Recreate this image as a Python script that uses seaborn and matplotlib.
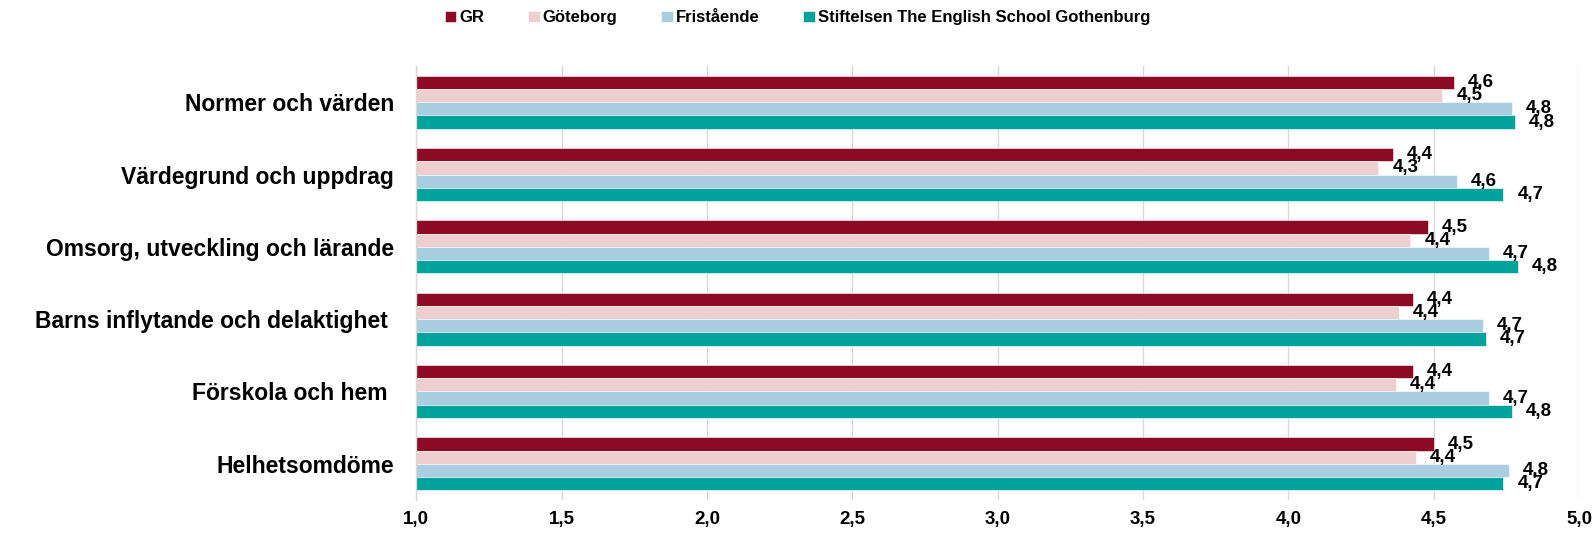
import matplotlib
matplotlib.use("Agg")
import matplotlib.pyplot as plt
from matplotlib.ticker import MultipleLocator, FixedLocator, FuncFormatter
import seaborn as sns
import pandas as pd

# Data
categories = ['Normer och värden', 'Värdegrund och uppdrag', 'Omsorg, utveckling och lärande',
              'Barns inflytande och delaktighet ', 'Förskola och hem ', 'Helhetsomdöme']
series = ['GR', 'Göteborg', 'Fristående', 'Stiftelsen The English School Gothenburg']
gr = [4.57, 4.36, 4.48, 4.43, 4.43, 4.50]
goteborg = [4.53, 4.31, 4.42, 4.38, 4.37, 4.44]
fristaende = [4.77, 4.58, 4.69, 4.67, 4.69, 4.76]
stiftelsen = [4.78, 4.74, 4.79, 4.68, 4.77, 4.74]
colors = ['#8C0A25', '#EECFD0', '#A8CEE0', '#00A39B']

rows = []
for name, vals in zip(series, [gr, goteborg, fristaende, stiftelsen]):
    for cat, v in zip(categories, vals):
        rows.append({'Kategori': cat, 'Serie': name, 'Värde': v})
df = pd.DataFrame(rows)

sns.set_theme(style="white")
plt.rcParams['font.family'] = ['Liberation Sans', 'DejaVu Sans']
plt.rcParams['text.color'] = 'black'
plt.rcParams['xtick.labelcolor'] = 'black'
plt.rcParams['ytick.labelcolor'] = 'black'

fig = plt.figure(figsize=(15.95, 5.33), dpi=100)
ax = fig.add_axes([0.261, 0.062, 0.729, 0.814])

sns.barplot(data=df, y='Kategori', x='Värde', hue='Serie', orient='h',
            palette=colors, saturation=1, width=0.73, errorbar=None, ax=ax,
            edgecolor='white', linewidth=0.4)

# data labels
for cont, vals in zip(ax.containers, [gr, goteborg, fristaende, stiftelsen]):
    ax.bar_label(cont, labels=[f"{v:.1f}".replace('.', ',') for v in vals],
                 padding=10, fontsize=13.5, fontweight='bold', color='black')

ax.set_xlim(1.0, 5.0)
ax.xaxis.set_major_locator(MultipleLocator(0.5))
ax.xaxis.set_major_formatter(FuncFormatter(lambda v, p: f"{v:.1f}".replace('.', ',')))
ax.grid(axis='x', color='#d9d9d9', linewidth=1)
ax.set_axisbelow(True)
ax.set_xlabel('')
ax.set_ylabel('')

for s in ['top', 'right', 'bottom']:
    ax.spines[s].set_visible(False)
ax.spines['left'].set_color('#d9d9d9')
ax.spines['left'].set_linewidth(1)

ax.tick_params(axis='x', length=0, pad=8, labelsize=13.5)
ax.tick_params(axis='y', which='major', length=0, pad=16, labelsize=16.5)
ax.yaxis.set_minor_locator(FixedLocator([i - 0.5 for i in range(len(categories) + 1)]))
ax.tick_params(axis='y', which='minor', length=5, color='#d9d9d9', width=1)
for lab in ax.get_xticklabels() + ax.get_yticklabels():
    lab.set_fontweight('bold')
ax.set_ylim(len(categories) - 0.5, -0.5)

sns.move_legend(ax, "center", bbox_to_anchor=(0.5, 1 - 18 / 533), bbox_transform=fig.transFigure,
                ncol=4, frameon=False, title=None, fontsize=12, handlelength=0.7,
                handleheight=0.7, handletextpad=0.2, columnspacing=2.6)
for t in ax.get_legend().get_texts():
    t.set_fontweight('bold')

fig.savefig('out.png', dpi=100)
